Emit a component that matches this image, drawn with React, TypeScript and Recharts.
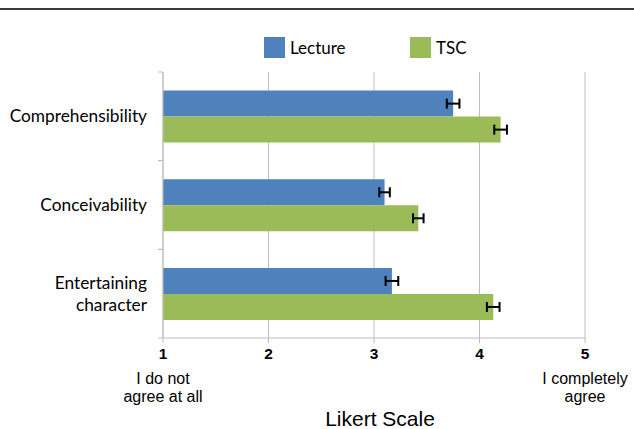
import React from 'react'
import { BarChart, Bar, XAxis, YAxis, CartesianGrid, ErrorBar } from 'recharts'

const categories = ['Comprehensibility', 'Conceivability', 'Entertaining character']
const lectureValues = [3.75, 3.1, 3.17]
const lectureErrors = [0.06, 0.05, 0.06]
const tscValues = [4.2, 3.42, 4.13]
const tscErrors = [0.06, 0.05, 0.06]
const xTicks = [1, 2, 3, 4, 5]
const xSubLabels: Record<number, string[]> = {
  1: ['I do not', 'agree at all'],
  5: ['I completely', 'agree'],
}

const BLUE = '#4F81BD'
const GREEN = '#9BBB59'
const GRID = '#BDBDBD'

const data = categories.map((name, i) => ({
  name,
  lecture: lectureValues[i],
  lectureErr: lectureErrors[i],
  tsc: tscValues[i],
  tscErr: tscErrors[i],
}))

const CategoryTick = (props: any) => {
  const { x, y, payload } = props
  const half = payload.offset ?? 0
  const axisX = x + 16
  const words = String(payload.value) === 'Entertaining character'
    ? ['Entertaining', 'character']
    : [String(payload.value)]
  const startDy = -((words.length - 1) * 22) / 2
  return (
    <g>
      <line x1={axisX - 5} x2={axisX} y1={y - half} y2={y - half} stroke={GRID} />
      <line x1={axisX - 5} x2={axisX} y1={y + half} y2={y + half} stroke={GRID} />
      <text x={x} y={y} textAnchor="end" fill="#000" fontSize={17.3} fontFamily="Lato, 'Noto Sans', sans-serif">
        {words.map((w, i) => (
          <tspan key={w} x={x} dy={i === 0 ? startDy + 6 : 22}>{w}</tspan>
        ))}
      </text>
    </g>
  )
}

const ValueTick = (props: any) => {
  const { x, y, payload } = props
  const sub = xSubLabels[payload.value] || []
  return (
    <g>
      <text x={x} y={y + 14} textAnchor="middle" fontSize={15.5} fontWeight="bold" fill="#000" fontFamily="'Liberation Sans', Arial, sans-serif">
        {payload.value}
      </text>
      {sub.map((s, i) => (
        <text key={s} x={x} y={y + 39 + i * 18} textAnchor="middle" fontSize={16} fill="#000" fontFamily="'Liberation Sans', Arial, sans-serif">
          {s}
        </text>
      ))}
    </g>
  )
}

export default function App() {
  return (
    <div style={{ position: 'absolute', left: 0, top: 0, width: 634, height: 429, background: '#fff' }}>
      <div style={{ position: 'absolute', left: 0, top: 8, width: 634, height: 2, background: '#3a3a3a' }} />
      <div style={{ position: 'absolute', top: 37, left: 0, width: 634, height: 22, fontFamily: "Lato, 'Noto Sans', sans-serif", fontSize: 17 }}>
        <div style={{ position: 'absolute', left: 264, top: 0, width: 21, height: 21, background: BLUE }} />
        <div style={{ position: 'absolute', left: 290, top: 0, lineHeight: '21px' }}>Lecture</div>
        <div style={{ position: 'absolute', left: 410, top: 0, width: 21, height: 21, background: GREEN }} />
        <div style={{ position: 'absolute', left: 436, top: 0, lineHeight: '21px' }}>TSC</div>
      </div>
      <BarChart
        width={634}
        height={429}
        data={data}
        layout="vertical"
        margin={{ top: 72, right: 49, bottom: 0, left: 0 }}
        barCategoryGap="21%"
        barGap={0}
      >
        <CartesianGrid horizontal={false} stroke={GRID} />
        <XAxis
          type="number"
          domain={[1, 5]}
          ticks={xTicks}
          interval={0}
          height={91}
          stroke={GRID}
          tickSize={5}
          tick={<ValueTick />}
          label={{ value: 'Likert Scale', position: 'insideBottom', offset: 3, dx: 6, fontSize: 21, fill: '#000', fontFamily: "'Liberation Sans', Arial, sans-serif" }}
        />
        <YAxis
          type="category"
          dataKey="name"
          width={163}
          stroke={GRID}
          tickLine={false}
          tickSize={0}
          tickMargin={16}
          interval={0}
          tick={<CategoryTick />}
        />
        <Bar dataKey="lecture" fill={BLUE} isAnimationActive={false}>
          <ErrorBar dataKey="lectureErr" direction="x" width={5} stroke="#000" strokeWidth={2} />
        </Bar>
        <Bar dataKey="tsc" fill={GREEN} isAnimationActive={false}>
          <ErrorBar dataKey="tscErr" direction="x" width={5} stroke="#000" strokeWidth={2} />
        </Bar>
      </BarChart>
    </div>
  )
}
